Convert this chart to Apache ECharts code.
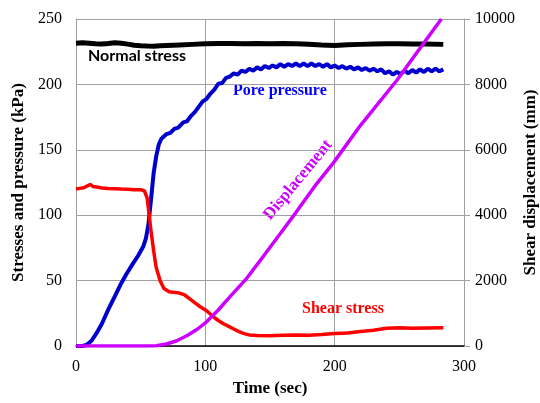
<!DOCTYPE html>
<html>
<head>
<meta charset="utf-8">
<script src="https://cdn.jsdelivr.net/npm/echarts@6/dist/echarts.min.js"></script>
<style>
  html, body { margin: 0; padding: 0; background: #fff; }
  #main { width: 540px; height: 403px; }
</style>
</head>
<body>
<div id="main"></div>
<script>
// time (sec) ticks and axis ranges
const timeTicks = [0, 100, 200, 300];
const stressTicks = [0, 50, 100, 150, 200, 250];
const dispTicks = [0, 2000, 4000, 6000, 8000, 10000];

// normal stress (kPa), [time, value]
const normalStress = [
  [0, 231.5], [5, 231.8], [10, 231.5], [15, 231], [20, 230.8], [25, 231.2], [30, 231.8],
  [35, 231.5], [40, 230.8], [45, 230], [50, 229.5], [55, 229.3], [60, 229.2], [65, 229.6],
  [70, 229.8], [80, 230.2], [90, 230.6], [100, 231], [110, 231.2], [120, 231.3], [130, 231],
  [140, 231.2], [150, 231], [160, 231.3], [170, 231], [180, 230.7], [190, 230.2], [200, 229.8],
  [210, 230.3], [220, 230.6], [230, 230.8], [240, 231], [250, 231], [260, 230.8], [270, 230.9],
  [284, 230.6]
];

// pore pressure (kPa)
const porePressure = [
  [0, 0], [5, 0], [8, 0.8], [12, 4], [16, 10], [20, 17], [25, 28], [30, 38], [35, 48],
  [39, 55], [44, 63], [48, 69], [52, 76], [54, 82], [56, 93], [58, 112], [60, 132],
  [62, 145], [64, 154], [66, 158.5], [70, 162], [73, 163], [76, 166], [79, 167], [83, 171],
  [86, 172], [89, 176], [92, 179], [95, 183], [98, 187], [101, 189], [104, 193], [107, 196],
  [110, 200.5], [113, 201], [116, 205], [119, 206], [122, 208.5], [125, 207.5], [128, 210.5],
  [131, 209.5], [134, 212], [137, 210.5], [140, 213], [143, 211.5], [146, 214], [149, 212.5],
  [152, 214.5], [155, 213], [158, 215.5], [161, 213.5], [164, 215.5], [167, 214], [170, 216],
  [173, 214], [176, 216], [179, 214], [182, 216], [185, 214], [188, 215.5], [191, 213.5],
  [194, 215.5], [197, 213], [200, 214.5], [203, 212.5], [206, 214], [209, 212], [212, 213.5],
  [215, 211.5], [218, 213], [221, 211], [224, 212.5], [227, 210.5], [230, 212], [233, 210],
  [236, 211.5], [239, 208.5], [242, 210], [245, 207.5], [248, 209.5], [251, 208], [254, 210.5],
  [257, 208.5], [260, 211], [263, 209], [266, 211.5], [269, 209.5], [272, 212], [275, 210],
  [278, 212], [281, 210], [284, 211.5]
];

// shear stress (kPa)
const shearStress = [
  [0, 120], [3, 120.5], [6, 121], [9, 122.5], [11, 123.5], [13, 122], [16, 121.5], [20, 120.8],
  [25, 120.5], [30, 120.3], [35, 120], [40, 119.8], [45, 119.5], [50, 119.5], [53, 118.5],
  [55, 113], [56, 105], [58, 88], [60, 73], [62, 60], [65, 50], [68, 44], [72, 41.5],
  [76, 41], [80, 40.5], [84, 39], [88, 36], [92, 33], [96, 30], [101, 27], [106, 22.5],
  [110, 19.5], [114, 17], [118, 15], [122, 13], [126, 11], [130, 9.5], [134, 8.5], [140, 8],
  [150, 7.8], [160, 8.2], [170, 8.5], [180, 8.3], [190, 8.8], [200, 9.5], [210, 10],
  [220, 11], [230, 12], [240, 13.5], [250, 14], [260, 13.5], [270, 13.8], [284, 14]
];

// shear displacement (mm), right axis
const displacement = [
  [0, 0], [55, 0], [62, 10], [70, 60], [78, 160], [86, 320], [94, 520], [101, 740],
  [110, 1100], [120, 1550], [132, 2070], [145, 2750], [158, 3440], [170, 4080],
  [186, 4960], [199, 5600], [220, 6750], [248, 8120], [265, 9050], [282.5, 10000]
];

const chart = echarts.init(document.getElementById('main'));

const serif = '"Liberation Serif", serif';
const gridGray = '#a0a0a0';

function line(name, data, color, width, yIndex) {
  return {
    name: name,
    type: 'line',
    yAxisIndex: yIndex,
    data: data,
    showSymbol: false,
    symbol: 'none',
    smooth: false,
    lineStyle: { color: color, width: width },
    itemStyle: { color: color },
    animation: false
  };
}

const option = {
  backgroundColor: '#ffffff',
  animation: false,
  grid: { left: 76, right: 76, top: 19, bottom: 57, containLabel: false, outerBoundsMode: 'none' },
  xAxis: {
    type: 'value',
    min: timeTicks[0],
    max: timeTicks[timeTicks.length - 1],
    interval: 100,
    name: 'Time (sec)',
    nameLocation: 'middle',
    nameGap: 30,
    nameTextStyle: { fontFamily: serif, fontWeight: 'bold', fontSize: 17, color: '#000' },
    axisLine: { show: true, lineStyle: { color: '#000', width: 1.5 } },
    axisTick: { show: false },
    axisLabel: { fontFamily: serif, fontSize: 16, color: '#000', margin: 13 },
    splitLine: { show: true, lineStyle: { color: gridGray, width: 1 } }
  },
  yAxis: [
    {
      type: 'value',
      min: stressTicks[0],
      max: stressTicks[stressTicks.length - 1],
      interval: 50,
      position: 'left',
      name: 'Stresses and pressure (kPa)',
      nameLocation: 'middle',
      nameGap: 48,
      nameTextStyle: { fontFamily: serif, fontWeight: 'bold', fontSize: 17, color: '#000' },
      axisLine: { show: true, lineStyle: { color: gridGray, width: 1 } },
      axisTick: { show: false },
      axisLabel: { fontFamily: serif, fontSize: 16, color: '#000', margin: 14 },
      splitLine: { show: true, lineStyle: { color: gridGray, width: 1 } }
    },
    {
      type: 'value',
      min: dispTicks[0],
      max: dispTicks[dispTicks.length - 1],
      interval: 2000,
      position: 'right',
      name: 'Shear displacement (mm)',
      nameLocation: 'middle',
      nameGap: 58,
      nameMoveOverlap: false,
      nameRotate: 90,
      nameTextStyle: { fontFamily: serif, fontWeight: 'bold', fontSize: 17, color: '#000' },
      axisLine: { show: true, lineStyle: { color: gridGray, width: 1 } },
      axisTick: { show: true, inside: false, length: 6, lineStyle: { color: gridGray } },
      axisLabel: {
        fontFamily: serif, fontSize: 16, color: '#000', margin: 11,
        formatter: function (v) { return String(v); }
      },
      splitLine: { show: false }
    }
  ],
  series: [
    line('Normal stress', normalStress, '#000000', 5, 0),
    line('Pore pressure', porePressure, '#0000cc', 4, 0),
    line('Shear stress', shearStress, '#ff0000', 3.5, 0),
    line('Displacement', displacement, '#cc00ff', 3.5, 1)
  ],
  graphic: [
    {
      type: 'text', left: 88, top: 48,
      style: { text: 'Normal stress', font: 'bold 16px Lato', fill: '#000' }
    },
    {
      type: 'text', left: 233, top: 83,
      style: { text: 'Pore pressure', font: 'bold 16px "Liberation Serif"', fill: '#0000ff' }
    },
    {
      type: 'text', left: 302, top: 301,
      style: { text: 'Shear stress', font: 'bold 16px "Liberation Serif"', fill: '#ff0000' }
    },
    {
      type: 'text', x: 298, y: 180, rotation: 50.5 * Math.PI / 180,
      style: {
        text: 'Displacement', font: 'bold 17px "Liberation Serif"', fill: '#cc00ff',
        align: 'center', verticalAlign: 'middle'
      }
    }
  ]
};

chart.setOption(option);
</script>
</body>
</html>
